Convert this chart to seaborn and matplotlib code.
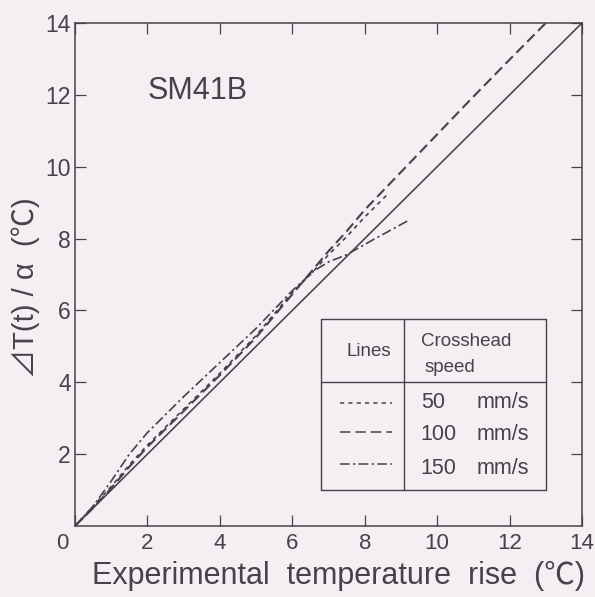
import numpy as np
import pandas as pd
import matplotlib
matplotlib.use("Agg")
import matplotlib.pyplot as plt
import matplotlib.transforms as mtransforms
from matplotlib.lines import Line2D
import seaborn as sns

# Measured thermal response vs. predicted rise, steel SM41B
x_50 = [0, 0.5, 1.0, 1.5, 2.0, 3.0, 4.0, 5.0, 6.0, 6.5, 7.0, 7.5, 8.0, 8.6]
y_50 = [0, 0.55, 1.1, 1.7, 2.25, 3.25, 4.25, 5.3, 6.5, 7.0, 7.55, 8.05, 8.6, 9.2]

x_100 = [0, 0.5, 1.0, 1.5, 2.0, 3.0, 4.0, 5.0, 6.0, 6.5, 7.0, 7.5, 8.0, 9.0, 10.0, 11.0, 12.0, 13.0]
y_100 = [0, 0.5, 1.05, 1.65, 2.2, 3.2, 4.2, 5.25, 6.45, 7.05, 7.65, 8.2, 8.8, 9.85, 10.9, 11.95, 12.98, 14.0]

x_150 = [0, 0.5, 1.0, 1.5, 2.0, 3.0, 4.0, 5.0, 6.0, 6.6, 7.0, 7.5, 8.2, 9.2]
y_150 = [0, 0.55, 1.25, 2.0, 2.6, 3.6, 4.55, 5.5, 6.55, 7.1, 7.35, 7.55, 7.95, 8.5]

x_ref = [0, 14]
y_ref = [0, 14]

speeds = ["50", "100", "150"]
speed_unit = "mm/s"
x_ticks = [0, 2, 4, 6, 8, 10, 12, 14]
y_ticks = [2, 4, 6, 8, 10, 12, 14]

INK = "#4a4049"
BG = "#f3eff3"

sns.set_style("ticks")
plt.rcParams["font.family"] = ["Liberation Sans", "Noto Sans CJK JP", "DejaVu Sans"]
plt.rcParams["lines.scale_dashes"] = False
plt.rcParams["text.color"] = INK
plt.rcParams["axes.labelcolor"] = INK
plt.rcParams["xtick.color"] = INK
plt.rcParams["ytick.color"] = INK

fig = plt.figure(figsize=(5.95, 5.97), dpi=100, facecolor=BG)
ax = fig.add_axes([75 / 595, 1 - 526 / 597, 507 / 595, 503 / 597])
ax.set_facecolor(BG)

styles = {
    "50": (0, (3.0, 3.0)),
    "100": (0, (7.5, 3.6)),
    "150": (0, (7.0, 2.4, 1.6, 2.4)),
}
widths = {"50": 1.2, "100": 1.5, "150": 1.2}
lw = 1.15

sns.lineplot(x=x_ref, y=y_ref, ax=ax, color=INK, lw=lw, estimator=None, sort=False)
for key, xs, ys in (("50", x_50, y_50), ("100", x_100, y_100), ("150", x_150, y_150)):
    df = pd.DataFrame({"x": xs, "y": ys})
    sns.lineplot(data=df, x="x", y="y", ax=ax, color=INK, lw=widths[key],
                 linestyle=styles[key], estimator=None, sort=False)

ax.set_xlim(0, 14)
ax.set_ylim(0, 14)
ax.set_xticks(x_ticks)
ax.set_yticks(y_ticks)
ax.tick_params(direction="in", length=8, width=0.9, top=True, right=True,
               labeltop=False, labelright=False)
ax.tick_params(axis="x", labelsize=16, pad=5)
ax.tick_params(axis="y", labelsize=16.5, pad=3)
for side in ax.spines.values():
    side.set_color(INK)
    side.set_linewidth(1.1)

# nudge the origin label to the left of the corner
zero_lbl = ax.get_xticklabels()[0]
zero_lbl.set_transform(zero_lbl.get_transform() +
                       mtransforms.ScaledTranslation(-13 / 100, 0, fig.dpi_scale_trans))

ax.set_xlabel("Experimental  temperature  rise  (\u2103)", fontsize=22)
ax.xaxis.set_label_coords(0.52, -0.07)
ax.set_ylabel("\u22bfT(t) / \u03b1  (\u2103)", fontsize=21)
ax.yaxis.set_label_coords(-0.07, 0.473)

ax.text(2.0, 12.1, "SM41B", fontsize=22, va="center", ha="left")

# speed key drawn as a small ruled table
T = ax.transAxes
L, R, TOP, BOT = 0.485, 0.929, 0.4115, 0.0716
HDR, VDIV = 0.286, 0.649
for xs, ys in (([L, R, R, L, L], [BOT, BOT, TOP, TOP, BOT]),
               ([L, R], [HDR, HDR]), ([VDIV, VDIV], [BOT, TOP])):
    ax.add_line(Line2D(xs, ys, transform=T, color=INK, lw=1.0))

ax.text(0.580, 0.346, "Lines", transform=T, fontsize=13.5, ha="center", va="center")
ax.text(0.682, 0.366, "Crosshead", transform=T, fontsize=13.5, ha="left", va="center")
ax.text(0.690, 0.316, "speed", transform=T, fontsize=13.5, ha="left", va="center")

row_y = [0.2465, 0.181, 0.115]
line_y = [0.245, 0.186, 0.124]
for key, ty, ly in zip(speeds, row_y, line_y):
    ax.add_line(Line2D([0.523, 0.625], [ly, ly], transform=T, color=INK, lw=1.1,
                       linestyle=styles[key]))
    ax.text(0.682, ty, key, transform=T, fontsize=15.5, ha="left", va="center")
    ax.text(0.793, ty, speed_unit, transform=T, fontsize=15.5, ha="left", va="center")

fig.savefig("out.png", dpi=100, facecolor=BG)
